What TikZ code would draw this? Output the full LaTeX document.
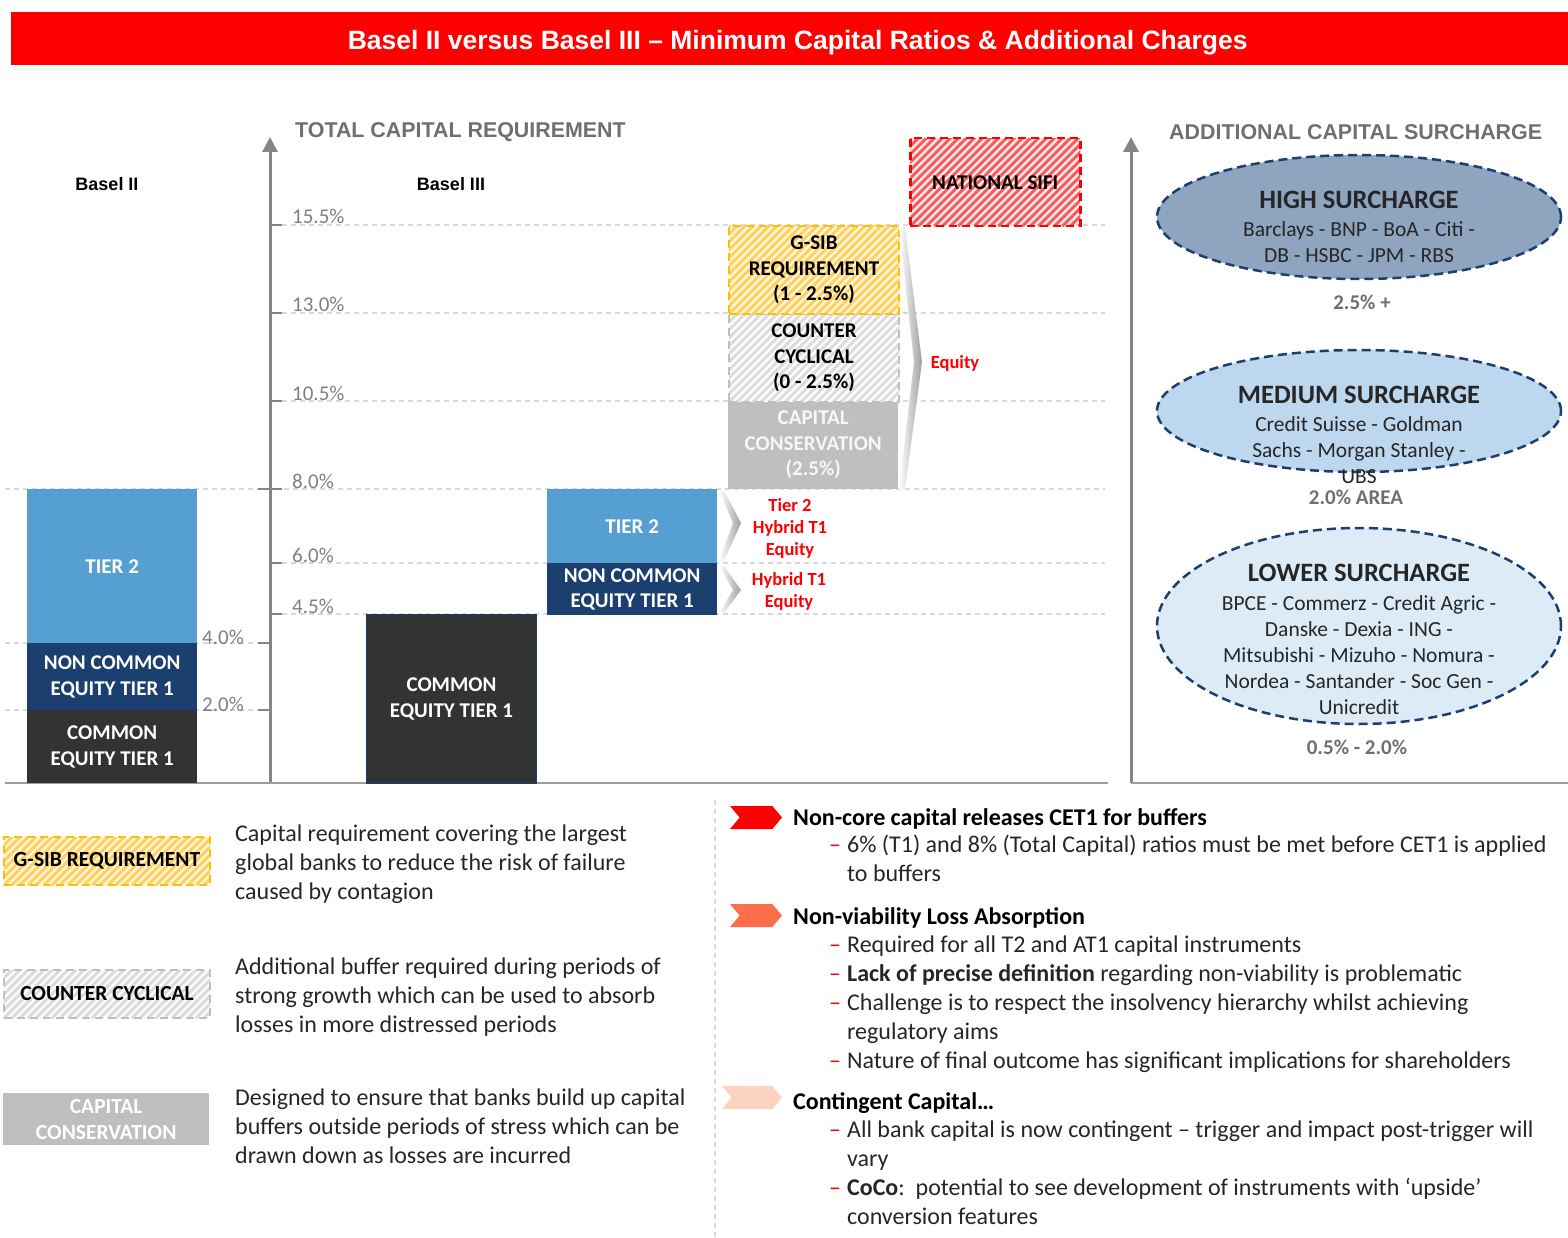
\documentclass[tikz,border=0pt]{standalone}
\usepackage{fontspec}
\setmainfont{Carlito}
\newfontfamily\arialfont{Liberation Sans}
\usetikzlibrary{positioning, shapes.geometric, shapes.symbols, arrows.meta}

\definecolor{titlered}{HTML}{FF0000}
\definecolor{cetdark}{HTML}{333333}
\definecolor{navy}{HTML}{1B3F6F}
\definecolor{tierblue}{HTML}{569FD3}
\definecolor{consgray}{HTML}{BFBFBF}
\definecolor{axisgray}{HTML}{858585}
\definecolor{gridgray}{HTML}{D9D9D9}
\definecolor{labelgray}{HTML}{7F7F7F}
\definecolor{headgray}{HTML}{6F6F6F}
\definecolor{highfill}{HTML}{8EA4BF}
\definecolor{medfill}{HTML}{BDD7EE}
\definecolor{lowfill}{HTML}{DDEBF7}
\definecolor{gsiborange}{HTML}{FFC000}
\definecolor{gsibstripe}{HTML}{FFD15E}
\definecolor{gsibpale}{HTML}{FFF6DE}
\definecolor{hatchgray}{HTML}{DCDCDC}
\definecolor{sifistripe}{HTML}{FF5A5A}
\definecolor{sifipale}{HTML}{FFF0F0}
\definecolor{chevorange}{HTML}{FF6E4A}
\definecolor{chevpeach}{HTML}{FBD3BE}
\definecolor{inktext}{HTML}{262626}

\newcommand{\fsz}[2]{\fontsize{#1pt}{#2pt}\selectfont}
\newcommand{\bdash}{\textcolor{titlered}{–}}

\tikzset{
  stripefill/.style={path picture={
    \foreach \k in {-120,-112,...,224}
      \draw[#1, solid, line width=3pt] ([xshift=\k pt]path picture bounding box.south west) -- ++(130,-130);
  }},
  gsibhatch/.style={fill=gsibpale, stripefill=gsibstripe, draw=gsiborange, dash pattern=on 8pt off 5pt, line width=2pt},
  cyclehatch/.style={fill=white, stripefill=hatchgray, draw=consgray, dash pattern=on 8pt off 5pt, line width=2pt},
  sifihatch/.style={fill=sifipale, stripefill=sifistripe, draw=titlered, dash pattern=on 8pt off 5pt, line width=2.5pt}
}

\begin{document}
\begin{tikzpicture}[
    x=1pt, y=-1pt,
    titlebar/.style={anchor=north west, fill=titlered, minimum width=1557pt, minimum height=53pt, inner sep=0pt, text height=22pt, text depth=0pt, text=white, font=\arialfont\fsz{26.5}{30}\bfseries},
    bar/.style={anchor=north west, minimum width=170pt, inner sep=0pt, align=center, text=white, font=\fsz{21}{25.5}\bfseries},
    gridline/.style={gridgray, line width=1.2pt, dash pattern=on 5pt off 4pt},
    axisline/.style={axisgray, line width=3pt, -{Triangle[width=15pt,length=15pt]}},
    tickmark/.style={axisgray, line width=2pt},
    floorline/.style={axisgray!80, line width=2.5pt},
    pct/.style={anchor=base west, inner sep=0pt, text=labelgray, font=\fsz{21}{24}},
    eqlabel/.style={text=titlered, font=\fsz{18.5}{22}\bfseries, align=center, inner sep=0pt},
    colhead/.style={inner sep=0pt, text=black, font=\arialfont\fsz{18}{22}\bfseries},
    panelhead/.style={anchor=west, inner sep=0pt, text=headgray, font=\arialfont\fsz{21.4}{25}\bfseries},
    surcharge/.style={ellipse, draw=navy, dash pattern=on 9pt off 5pt, line width=2.5pt, minimum width=404pt, inner sep=0pt},
    surhead/.style={inner sep=0pt, text=inktext, font=\fsz{26.5}{30}\bfseries},
    surbody/.style={inner sep=0pt, align=center, text=inktext, font=\fsz{21.5}{26}},
    rangetext/.style={inner sep=0pt, text=headgray, font=\fsz{21}{24}\bfseries},
    legendbox/.style={anchor=north west, minimum width=206pt, minimum height=48pt, inner sep=0pt, align=center, text=black, font=\fsz{21.5}{26}\bfseries},
    legtext/.style={anchor=west, align=left, inner sep=0pt, text=inktext, font=\fsz{24}{29}},
    chev/.style={signal, signal from=west, signal to=east, signal pointer angle=100, minimum width=52pt, minimum height=23pt, inner sep=0pt},
    sechead/.style={anchor=west, inner sep=0pt, text=black, font=\fsz{24}{29}\bfseries},
    bullets/.style={anchor=north west, inner sep=0pt, text=inktext, font=\fsz{24}{29}}
]
\useasboundingbox (0,0) rectangle (1568,1238);

% title
\node[titlebar] (title) at (11,12) {\hspace*{16pt}Basel II versus Basel III – Minimum Capital Ratios \& Additional Charges};

% grid and axes
\foreach \yy in {225,313,401,563,614}
  \draw[gridline] (282,\yy) -- (1105,\yy);
\draw[gridline] (5,489) -- (1105,489);
\foreach \yy in {643,710}
  \draw[gridline] (5,\yy) -- (258,\yy);

\draw[axisline] (270,783) -- (270,137);
\foreach \yy in {225,313,401,563,614}
  \draw[tickmark] (270,\yy) -- (282,\yy);
\draw[tickmark] (258,489) -- (282,489);
\foreach \yy in {643,710}
  \draw[tickmark] (258,\yy) -- (270,\yy);
\draw[floorline] (5,783) -- (1108,783);

\draw[axisline] (1131,783) -- (1131,137);
\draw[floorline] (1131,783) -- (1568,783);

% percentage labels
\foreach \yy/\pc [count=\i] in {225/15.5, 313/13.0, 401/10.5, 489/8.0, 563/6.0, 614/4.5}
  \node[pct] (pct\i) at (292,\yy-1) {\pc\%};
\node[pct] (pctfour) at (202,644) {4.0\%};
\node[pct] (pcttwo) at (202,711) {2.0\%};

% column headings
\node[panelhead] (totalhead) at (295,132) {TOTAL CAPITAL REQUIREMENT};
\node[panelhead] (addhead) at (1169,132) {ADDITIONAL CAPITAL SURCHARGE};
\node[colhead] (basel2) at (107,184) {Basel II};
\node[colhead] (basel3) at (451,184) {Basel III};

% Basel II stack
\node[bar, fill=tierblue, minimum height=154pt] (b2tier2) at (27,489) {TIER 2};
\node[bar, fill=navy, minimum height=67pt] (b2nce) at (27,643) {NON COMMON\\EQUITY TIER 1};
\node[bar, fill=cetdark, minimum height=73pt] (b2cet) at (27,710) {COMMON\\EQUITY TIER 1};

% Basel III stacks
\node[bar, fill=cetdark, draw=navy, line width=1pt, minimum height=169pt] (b3cet) at (366,614) {COMMON\\EQUITY TIER 1};
\node[bar, fill=tierblue, minimum height=74pt] (b3tier2) at (547,489) {TIER 2};
\node[bar, fill=navy, minimum height=52pt] (b3nce) at (547,563) {NON COMMON\\EQUITY TIER 1};
\node[bar, fill=consgray, text=white!94!gray, minimum height=88pt] (b3cons) at (728,401) {CAPITAL\\CONSERVATION\\(2.5\%)};
\node[bar, cyclehatch, text=black, minimum height=88pt] (b3cycle) at (728,313) {COUNTER\\CYCLICAL\\(0 - 2.5\%)};
\node[bar, gsibhatch, text=black, minimum height=88pt] (b3gsib) at (728,225) {G-SIB\\REQUIREMENT\\(1 - 2.5\%)};
\node[bar, sifihatch, text=black, minimum height=88pt] (b3sifi) at (909,137) {NATIONAL SIFI};

% gray chevrons
\shade[left color=white, right color=gray!75] (899,227) -- (905,227) -- (922,362) -- (905,489) -- (899,489) -- (914,362) -- cycle;
\shade[left color=white, right color=gray!75] (719,491) -- (724,491) -- (741,523) -- (724,561) -- (719,561) -- (733,523) -- cycle;
\shade[left color=white, right color=gray!75] (719,566) -- (724,566) -- (741,590) -- (724,613) -- (719,613) -- (733,590) -- cycle;

% red labels
\node[eqlabel] (eqbuffer) at (955,363) {Equity};
\node[eqlabel] (eqtier) at (790,528) {Tier 2\\Hybrid T1\\Equity};
\node[eqlabel] (eqnce) at (789,591) {Hybrid T1\\Equity};

% surcharge ellipses
\node[surcharge, fill=highfill, minimum height=124pt] (high) at (1359,217) {};
\node[surhead] (highhead) at (1359,200) {HIGH SURCHARGE};
\node[surbody] (highbody) at (1359,242) {Barclays - BNP - BoA - Citi -\\DB - HSBC - JPM - RBS};
\node[rangetext] (highrange) at (1362,302) {2.5\% +};

\node[surcharge, fill=medfill, minimum height=122pt] (medium) at (1359,411) {};
\node[surhead] (medhead) at (1359,395) {MEDIUM SURCHARGE};
\node[surbody] (medbody) at (1359,450) {Credit Suisse - Goldman\\Sachs - Morgan Stanley -\\UBS};
\node[rangetext] (medrange) at (1356,497) {2.0\% AREA};

\node[surcharge, fill=lowfill, minimum height=196pt] (lower) at (1359,626) {};
\node[surhead] (lowhead) at (1359,573) {LOWER SURCHARGE};
\node[surbody] (lowbody) at (1359,655) {BPCE - Commerz - Credit Agric -\\Danske - Dexia - ING -\\Mitsubishi - Mizuho - Nomura -\\Nordea - Santander - Soc Gen -\\Unicredit};
\node[rangetext] (lowrange) at (1357,747) {0.5\% - 2.0\%};

% legend
\node[legendbox, gsibhatch] (leggsib) at (3,836) {G-SIB REQUIREMENT};
\node[legendbox, cyclehatch] (legcycle) at (3,969) {COUNTER CYCLICAL};
\node[legendbox, fill=consgray, text=white, minimum height=52pt] (legcons) at (3,1093) {CAPITAL\\CONSERVATION};

\node[legtext] (descgsib) at (235,864) {Capital requirement covering the largest\\global banks to reduce the risk of failure\\caused by contagion};
\node[legtext] (desccycle) at (235,997) {Additional buffer required during periods of\\strong growth which can be used to absorb\\losses in more distressed periods};
\node[legtext] (desccons) at (235,1126) {Designed to ensure that banks build up capital\\buffers outside periods of stress which can be\\drawn down as losses are incurred};

\draw[gridline] (715,800) -- (715,1238);

% notes
\node[chev, fill=titlered] (chevcore) at (756,817.5) {};
\node[sechead] (headcore) at (793,819) {Non-core capital releases CET1 for buffers};
\node[bullets] (listcore) at (829,832) {\begin{tabular}{@{}l@{\hspace{6pt}}l@{}}
\bdash & 6\% (T1) and 8\% (Total Capital) ratios must be met before CET1 is applied\\
 & to buffers
\end{tabular}};

\node[chev, fill=chevorange] (chevnva) at (756,915.5) {};
\node[sechead] (headnva) at (793,918) {Non-viability Loss Absorption};
\node[bullets] (listnva) at (829,932) {\begin{tabular}{@{}l@{\hspace{6pt}}l@{}}
\bdash & Required for all T2 and AT1 capital instruments\\
\bdash & \textbf{Lack of precise definition} regarding non-viability is problematic\\
\bdash & Challenge is to respect the insolvency hierarchy whilst achieving\\
 & regulatory aims\\
\bdash & Nature of final outcome has significant implications for shareholders
\end{tabular}};

\node[chev, fill=chevpeach, minimum width=60pt] (chevcoco) at (752,1097.5) {};
\node[sechead] (headcoco) at (793,1103) {Contingent Capital…};
\node[bullets] (listcoco) at (829,1117) {\begin{tabular}{@{}l@{\hspace{6pt}}l@{}}
\bdash & All bank capital is now contingent – trigger and impact post-trigger will\\
 & vary\\
\bdash & \textbf{CoCo}:\ \ potential to see development of instruments with ‘upside’\\
 & conversion features
\end{tabular}};

\end{tikzpicture}
\end{document}
